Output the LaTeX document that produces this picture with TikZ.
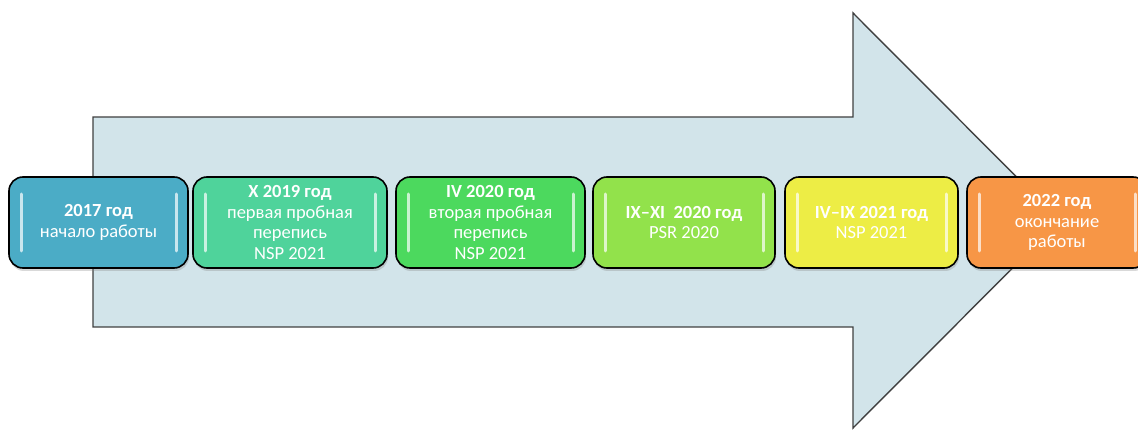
\documentclass[tikz,border=0pt]{standalone}
\usepackage{fontspec}
\setmainfont{Carlito}
\usetikzlibrary{shadows}
\definecolor{arrowfill}{HTML}{D2E4EA}
\definecolor{arrowline}{HTML}{404040}
\definecolor{cteal}{HTML}{4BACC6}
\definecolor{cmint}{HTML}{4FD39B}
\definecolor{cgreen}{HTML}{4CD95E}
\definecolor{clime}{HTML}{92E24B}
\definecolor{cyellow}{HTML}{EDED45}
\definecolor{corange}{HTML}{F79646}
\begin{document}
\begin{tikzpicture}[x=1pt,y=-1pt,
  stage/.style={draw=black, line width=1.6pt, rounded corners=14pt,
    minimum height=91pt, inner sep=0pt, align=center, text=white,
    font=\fontsize{18.5}{20.5}\selectfont,
    drop shadow={shadow xshift=1pt, shadow yshift=-3pt, opacity=0.3},
    path picture={
      \draw[white, opacity=0.7, line width=3pt, line cap=round]
        ([xshift=12pt,yshift=-17pt]path picture bounding box.north west) --
        ([xshift=12pt,yshift=17pt]path picture bounding box.south west);
      \draw[white, opacity=0.7, line width=3pt, line cap=round]
        ([xshift=-12pt,yshift=-17pt]path picture bounding box.north east) --
        ([xshift=-12pt,yshift=17pt]path picture bounding box.south east);
    }}]
  \useasboundingbox (0,0) rectangle (1138,430);
  \draw[arrowline, fill=arrowfill, line width=1.4pt, line join=miter]
    (93,117) -- (853,117) -- (853,13) -- (1060,220.5) -- (853,428)
    -- (853,327) -- (93,327) -- cycle;
  \node[stage, fill=cteal, minimum width=179pt] (start) at (98.5,222.5)
    {\textbf{2017 год}\\начало работы};
  \node[stage, fill=cmint, minimum width=194pt] (test1) at (290,222.5)
    {\textbf{X 2019 год}\\первая пробная\\перепись\\NSP 2021};
  \node[stage, fill=cgreen, minimum width=189pt] (test2) at (490.5,222.5)
    {\textbf{IV 2020 год}\\вторая пробная\\перепись\\NSP 2021};
  \node[stage, fill=clime, minimum width=182pt] (psr) at (684,222.5)
    {\textbf{IX–XI\ \ 2020 год}\\PSR 2020};
  \node[stage, fill=cyellow, minimum width=173pt] (nsp) at (871.5,222.5)
    {\textbf{IV–IX 2021 год}\\NSP 2021};
  \node[stage, fill=corange, minimum width=180pt] (finish) at (1057,222.5)
    {\textbf{2022 год}\\окончание\\работы};
\end{tikzpicture}
\end{document}
